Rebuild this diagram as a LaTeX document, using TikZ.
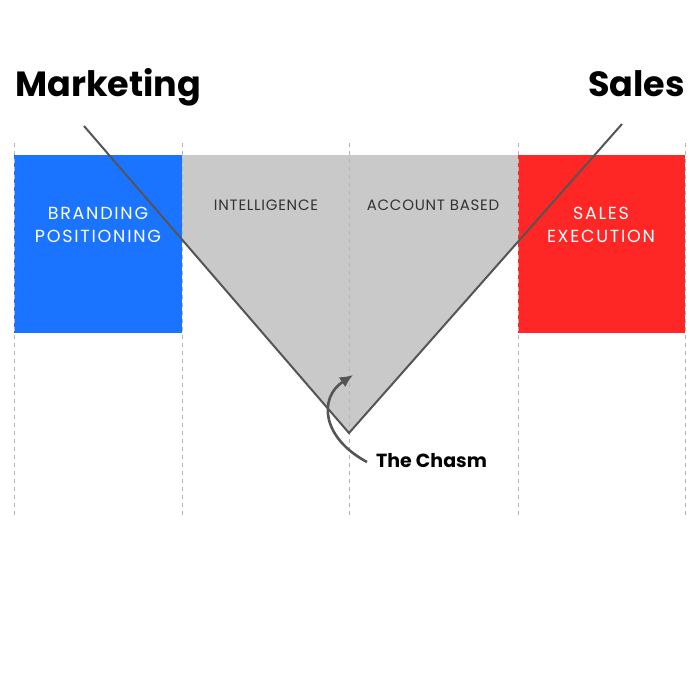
\documentclass[tikz,border=0pt]{standalone}
\usepackage{fontspec}
\newfontfamily\pop{Poppins}
\newfontfamily\popa[LetterSpace=10]{Poppins}
\newfontfamily\popb[LetterSpace=5]{Poppins}
\usetikzlibrary{arrows.meta}
\definecolor{bblue}{HTML}{1B74FF}
\definecolor{rred}{HTML}{FF2626}
\definecolor{ggray}{HTML}{C9C9C9}
\definecolor{lline}{HTML}{555555}
\definecolor{ddash}{HTML}{B5B5B5}
\begin{document}
\begin{tikzpicture}[x=1pt,y=-1pt,
  vdash/.style={draw=ddash,line width=1pt,dash pattern=on 4pt off 4pt},
  vline/.style={draw=lline,line width=2pt},
  title/.style={font=\pop\bfseries\fontsize{35}{40}\selectfont,text=black,inner sep=0pt},
  boxlab/.style={font=\popa\fontsize{17.5}{23}\selectfont,align=center,inner sep=0pt,text=white},
  graylab/.style={font=\popb\fontsize{15}{20}\selectfont,align=center,inner sep=0pt,text=black!80},
  ]
\useasboundingbox[fill=white] (0,0) rectangle (700,699);
% gray area
\fill[ggray] (182,155) -- (518,155) -- (518,242) -- (349,433) -- (182,240) -- cycle;
\fill[bblue] (14,155) rectangle (182,333);
\fill[rred] (518,155) rectangle (685,333);
% dashed verticals
\foreach \x in {14,182,349,518,685}
  \draw[vdash] (\x,143) -- (\x,516);
% V lines
\coordinate (vl) at (84,126);
\coordinate (vb) at (349,433);
\coordinate (vr) at (622,124);
\draw[vline,line join=miter] (vl) -- (vb) -- (vr);
% titles
\node[title,anchor=base west] (mkt) at (15,96) {Marketing};
\node[title,anchor=base east] (sales) at (685,96) {Sales};
% labels
\node[boxlab] (brand) at (98,225) {BRANDING\\POSITIONING};
\node[graylab] (intel) at (266,205) {INTELLIGENCE};
\node[graylab] (acct) at (433,205) {ACCOUNT BASED};
\node[boxlab] (exec) at (601,225) {SALES\\EXECUTION};
% chasm
\node[font=\pop\bfseries\fontsize{19}{22}\selectfont,anchor=west,inner sep=0pt] (chasm) at (376,461) {The Chasm};
\coordinate (tip) at (353,375);
\draw[draw=lline,line width=2.6pt,-{Latex[length=13pt,width=12pt]}] (367,462) .. controls (322,438) and (318,398) .. (tip);
\end{tikzpicture}
\end{document}
